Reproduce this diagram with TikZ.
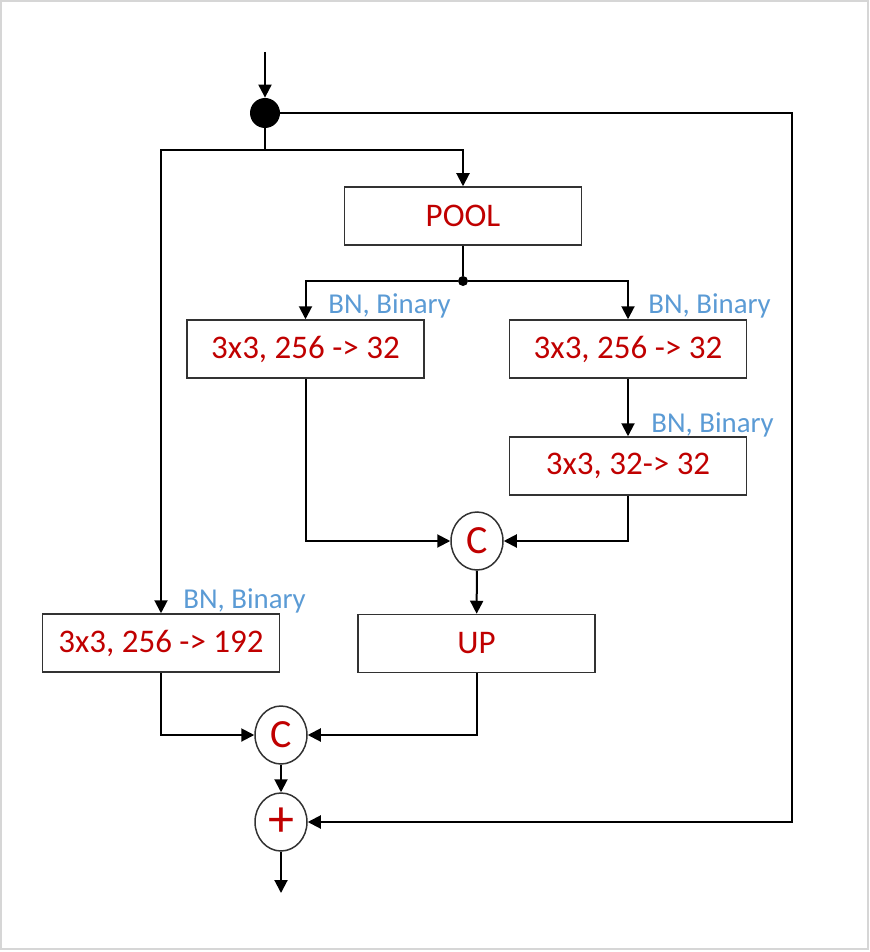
\documentclass[tikz,border=0pt]{standalone}
\usepackage{fontspec}
\setmainfont{Carlito}
\usetikzlibrary{arrows.meta,positioning,shapes.geometric}
\definecolor{opRed}{RGB}{192,0,0}
\definecolor{bnBlue}{RGB}{91,155,213}
\definecolor{boxEdge}{RGB}{50,50,50}
\definecolor{frameGray}{RGB}{214,214,214}
\tikzset{
  opbox/.style={draw=boxEdge,line width=.75pt,fill=white,minimum width=118.5pt,minimum height=29pt,
    inner sep=0pt,text=opRed,font=\fontsize{16.5}{18}\selectfont},
  opcirc/.style={ellipse,draw=boxEdge,line width=.75pt,fill=white,minimum width=26pt,minimum height=29pt,
    inner sep=0pt,text=opRed,font=\fontsize{20}{20}\selectfont},
  bnlabel/.style={anchor=base west,inner sep=0pt,text=bnBlue,font=\fontsize{14.4}{16}\selectfont},
  flow/.style={line width=1pt,-{Triangle[length=6.5pt,width=6.5pt]}},
  wire/.style={line width=1pt}
}
\begin{document}
\begin{tikzpicture}[x=0.5pt,y=-0.5pt]
\useasboundingbox (0,0) rectangle (870,952);
\draw[frameGray,line width=.8pt] (1,1) rectangle (868,949);

% input split
\coordinate (in) at (265,52);
\node[circle,fill=black,minimum size=15pt,inner sep=0pt] (split) at (265,113) {};
\coordinate (fork) at (265,150);
\coordinate (loopR) at (792,113);

% pooled branch
\node[opbox] (pool) at (463,216) {POOL};
\node[circle,fill=black,minimum size=5pt,inner sep=0pt] (branch) at (463,281) {};
\node[opbox] (convA) at (305.5,349) {3x3, 256 -> 32};
\node[opbox] (convB) at (628,349) {3x3, 256 -> 32};
\node[opbox] (convC) at (628,466) {3x3, 32-> 32};
\node[opcirc] (cat1) at (477,541) {C};
\node[opbox] (up) at (476.5,643.5) {UP};

% direct branch
\node[opbox] (convD) at (161,643) {3x3, 256 -> 192};
\node[opcirc] (cat2) at (281,735) {C};
\node[opcirc,font=\fontsize{26}{26}\selectfont] (add) at (281,822) {+};
\coordinate (out) at (281,893);

\node[bnlabel] (lblA) at (328,313) {BN, Binary};
\node[bnlabel] (lblB) at (648,313) {BN, Binary};
\node[bnlabel] (lblC) at (651,432) {BN, Binary};
\node[bnlabel] (lblD) at (183,608) {BN, Binary};

\draw[flow] (in) -- (split);
\draw[wire] (split) -- (fork);
\draw[flow] (fork) -| (pool.north);
\draw[flow] (fork) -| (convD.north);
\draw[wire] (pool) -- (branch);
\draw[flow] (branch) -| (convA.north);
\draw[flow] (branch) -| (convB.north);
\draw[flow] (convB) -- (convC);
\draw[flow] (convA.south) |- (cat1.west);
\draw[flow] (convC.south) |- (cat1.east);
\draw[flow] (cat1) -- (up);
\draw[flow] (convD.south) |- (cat2.west);
\draw[flow] (up.south) |- (cat2.east);
\draw[flow] (cat2) -- (add);
\draw[flow] (add) -- (out);
\draw[flow] (split.east) -- (loopR) |- (add.east);
\end{tikzpicture}
\end{document}
